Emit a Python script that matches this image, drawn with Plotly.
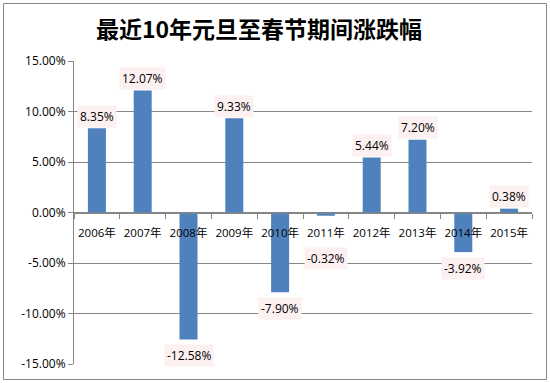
import plotly.graph_objects as go

categories = ["2006年", "2007年", "2008年", "2009年", "2010年",
              "2011年", "2012年", "2013年", "2014年", "2015年"]
values = [0.0835, 0.1207, -0.1258, 0.0933, -0.0790,
          -0.0032, 0.0544, 0.0720, -0.0392, 0.0038]
label_texts = ["8.35%", "12.07%", "-12.58%", "9.33%", "-7.90%",
               "-0.32%", "5.44%", "7.20%", "-3.92%", "0.38%"]
y_ticks = [-0.15, -0.10, -0.05, 0.0, 0.05, 0.10, 0.15]
y_tick_labels = ["-15.00%", "-10.00%", "-5.00%", "0.00%", "5.00%", "10.00%", "15.00%"]
title_text = "最近10年元旦至春节期间涨跌幅"

W, H = 550, 383
L, R, T, B = 74, 18, 61, 19
pw, ph = W - L - R, H - T - B

def px_x(x):
    return (x - L) / pw

def px_y(y):
    return 1 - (y - T) / ph

GRID = "#868686"
FONT = "Open Sans, Noto Sans CJK SC, sans-serif"

fig = go.Figure()
fig.add_trace(go.Bar(x=categories, y=values, marker=dict(color="#4F81BD", line=dict(width=0)),
                     hoverinfo="skip"))

# data labels
for c, v, t in zip(categories, values, label_texts):
    if v >= 0:
        fig.add_annotation(x=c, y=v, text=t, showarrow=False, yanchor="middle",
                           yshift=12, bgcolor="#FDF0F0", borderpad=2,
                           font=dict(family=FONT, size=12, color="#000"))
    else:
        fig.add_annotation(x=c, y=min(v, -0.03), text=t, showarrow=False, yanchor="middle",
                           yshift=-16, bgcolor="#FDF0F0", borderpad=2,
                           font=dict(family=FONT, size=12, color="#000"))

fig.update_layout(
    width=W, height=H,
    margin=dict(l=L, r=R, t=T, b=B, autoexpand=False),
    paper_bgcolor="white", plot_bgcolor="white",
    bargap=0.607,
    showlegend=False,
    title=dict(text=title_text, x=259 / W, xanchor="center",
               y=1 - 30 / H, yanchor="middle",
               font=dict(family="Noto Sans CJK SC, sans-serif", size=23, color="#000", weight="bold")),
    xaxis=dict(type="category", anchor="free", position=0.5,
               showline=True, linecolor=GRID, linewidth=1,
               ticks="outside", ticklen=5, tickcolor=GRID, tickson="boundaries",
               ticklabelstandoff=10, tickangle=0, automargin=False,
               tickfont=dict(family=FONT, size=11.5, color="#000"),
               showgrid=False, zeroline=False, fixedrange=True),
    yaxis=dict(range=[-0.15, 0.15], tickvals=y_ticks, ticktext=y_tick_labels,
               showline=True, linecolor=GRID, linewidth=1, automargin=False,
               ticks="outside", ticklen=5, tickcolor=GRID,
               showgrid=True, gridcolor=GRID, gridwidth=1, zeroline=False,
               tickfont=dict(family=FONT, size=12, color="#000"), fixedrange=True),
)

# outer chart border
fig.add_shape(type="rect", xref="paper", yref="paper",
              x0=px_x(3.5), x1=px_x(546.5), y0=px_y(379.5), y1=px_y(3.5),
              line=dict(color="#868686", width=1), fillcolor="rgba(0,0,0,0)", layer="above")

fig.write_html("out.html", config={"displayModeBar": False},
               post_script="document.body.style.margin='0';document.body.style.padding='0';")
